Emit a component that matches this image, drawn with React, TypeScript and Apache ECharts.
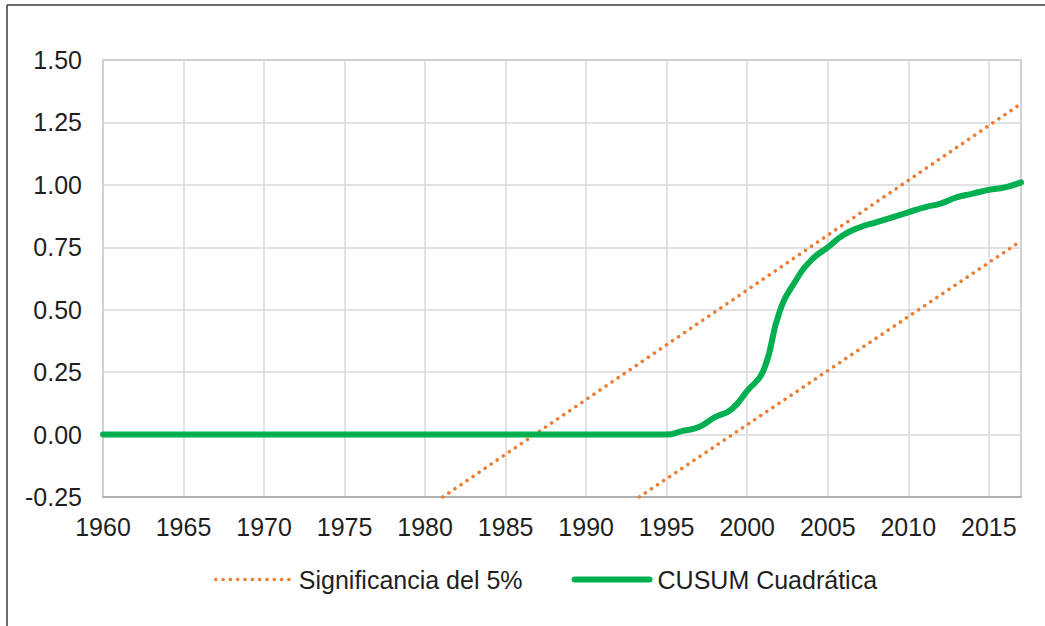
import React, { useEffect, useRef } from "react";
import * as echarts from "echarts";

const years: number[] = [];
for (let y = 1960; y <= 2017; y++) years.push(y);

const cusumValues: number[] = [
  0, 0, 0, 0, 0, 0, 0, 0, 0, 0, // 1960-1969
  0, 0, 0, 0, 0, 0, 0, 0, 0, 0, // 1970-1979
  0, 0, 0, 0, 0, 0, 0, 0, 0, 0, // 1980-1989
  0, 0, 0, 0, 0, 0, // 1990-1995
  0.015, 0.03, 0.07, 0.1, 0.175, 0.255, 0.49, 0.615, 0.7, 0.75, // 1996-2005
  0.8, 0.83, 0.85, 0.87, 0.89, 0.91, 0.925, 0.95, 0.965, 0.98, // 2006-2015
  0.99, 1.01, // 2016-2017
];

const upperYears = [1981.1, 2017];
const upperValues = [-0.25, 1.325];
const lowerYears = [1993.3, 2017];
const lowerValues = [-0.25, 0.775];

const xTicks = [1960, 1965, 1970, 1975, 1980, 1985, 1990, 1995, 2000, 2005, 2010, 2015];
const yTicks = [-0.25, 0, 0.25, 0.5, 0.75, 1.0, 1.25, 1.5];

const SIG_NAME = "Significancia del 5%";
const CUSUM_NAME = "CUSUM Cuadrática";

const FONT = "'Liberation Sans', Arial, sans-serif";
const TEXT = "#1f1f1f";
const ORANGE = "#ED7D31";
const GREEN = "#00B050";

export default function App() {
  const ref = useRef<HTMLDivElement>(null);
  useEffect(() => {
    if (!ref.current) return;
    const chart = echarts.init(ref.current, undefined, { renderer: "svg" });
    const dotted = { width: 3.6, type: [0.01, 7.3] as number[], cap: "round" as const, color: ORANGE };
    const solid = { width: 6, color: GREEN, cap: "round" as const, join: "round" as const };
    chart.setOption({
      animation: false,
      backgroundColor: "#ffffff",
      textStyle: { fontFamily: FONT },
      grid: {
        left: 103,
        right: 24,
        top: 60,
        bottom: 129,
        show: true,
        borderColor: "#a6a6a6",
        borderWidth: 1.5,
        containLabel: false,
      },
      legend: {
        top: 567,
        left: 214,
        padding: 0,
        itemWidth: 75,
        itemHeight: 14,
        itemGap: 49,
        itemStyle: { opacity: 0 },
        textStyle: { fontFamily: FONT, fontSize: 25, color: TEXT, padding: [0, 0, 0, 3] },
        data: [
          { name: SIG_NAME, lineStyle: dotted },
          { name: CUSUM_NAME, lineStyle: solid },
        ],
      },
      xAxis: {
        type: "value",
        min: xTicks[0],
        max: 2017,
        interval: 5,
        axisLine: { show: true, onZero: false, lineStyle: { color: "#a6a6a6", width: 1.5 } },
        axisTick: { show: false },
        splitLine: { show: true, lineStyle: { color: "#d9d9d9", width: 1.5 } },
        axisLabel: {
          fontFamily: FONT,
          fontSize: 25,
          color: TEXT,
          margin: 17,
          formatter: (v: number) => (xTicks.includes(v) ? String(v) : ""),
        },
      },
      yAxis: {
        type: "value",
        min: yTicks[0],
        max: yTicks[yTicks.length - 1],
        interval: 0.25,
        axisLine: { show: false },
        axisTick: { show: false },
        splitLine: { show: true, lineStyle: { color: "#d9d9d9", width: 1.5 } },
        axisLabel: {
          fontFamily: FONT,
          fontSize: 25,
          color: TEXT,
          margin: 21,
          formatter: (v: number) => v.toFixed(2),
        },
      },
      graphic: [
        { type: "line", shape: { x1: 7, y1: 5, x2: 1045, y2: 5 }, style: { stroke: "#3a3a3a", lineWidth: 1.5 } },
        { type: "line", shape: { x1: 7, y1: 5, x2: 7, y2: 626 }, style: { stroke: "#3a3a3a", lineWidth: 1.5 } },
      ],
      series: [
        {
          name: SIG_NAME,
          type: "line",
          symbol: "none",
          data: upperYears.map((y, i) => [y, upperValues[i]]),
          lineStyle: dotted,
          itemStyle: { color: ORANGE },
          z: 2,
        },
        {
          name: SIG_NAME,
          type: "line",
          symbol: "none",
          data: lowerYears.map((y, i) => [y, lowerValues[i]]),
          lineStyle: dotted,
          itemStyle: { color: ORANGE },
          z: 2,
        },
        {
          name: CUSUM_NAME,
          type: "line",
          symbol: "none",
          smooth: 0.5,
          data: years.map((y, i) => [y, cusumValues[i]]),
          lineStyle: solid,
          itemStyle: { color: GREEN },
          z: 3,
        },
      ],
    });
    return () => chart.dispose();
  }, []);
  return (
    <div
      ref={ref}
      style={{ position: "fixed", left: 0, top: 0, width: 1045, height: 626, background: "#fff" }}
    />
  );
}
